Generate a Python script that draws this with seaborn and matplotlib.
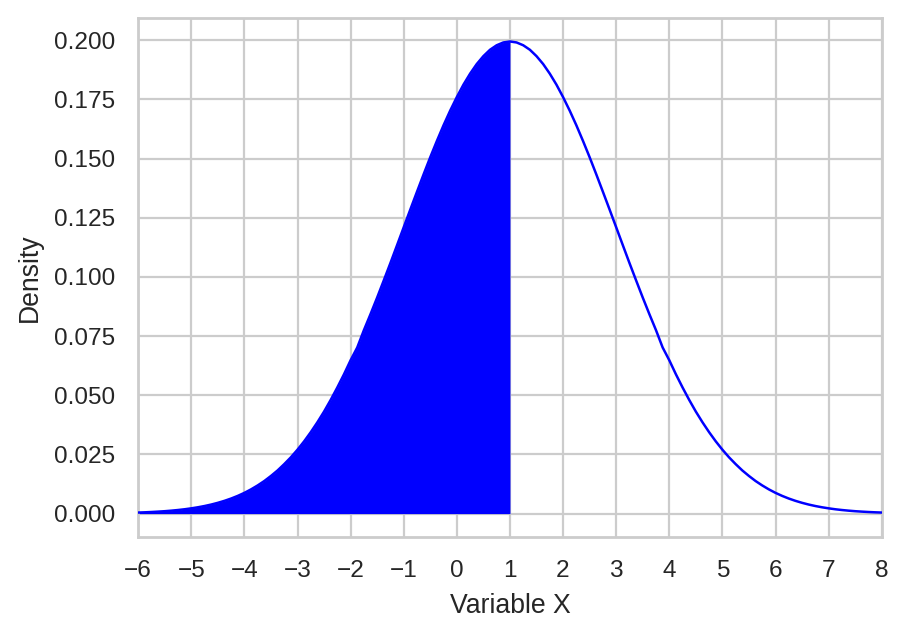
import pandas as pd
import seaborn as sns
import matplotlib
matplotlib.use("Agg")
import matplotlib.pyplot as plt
from matplotlib.ticker import FormatStrFormatter

# Density values, every 0.125 on x (peak 0.1995 at x = 1)
x_values = [
    -6.0, -5.875, -5.75, -5.625, -5.5, -5.375, -5.25, -5.125,
    -5.0, -4.875, -4.75, -4.625, -4.5, -4.375, -4.25, -4.125,
    -4.0, -3.875, -3.75, -3.625, -3.5, -3.375, -3.25, -3.125,
    -3.0, -2.875, -2.75, -2.625, -2.5, -2.375, -2.25, -2.125,
    -2.0, -1.875, -1.75, -1.625, -1.5, -1.375, -1.25, -1.125,
    -1.0, -0.875, -0.75, -0.625, -0.5, -0.375, -0.25, -0.125,
    0.0, 0.125, 0.25, 0.375, 0.5, 0.625, 0.75, 0.875,
    1.0, 1.125, 1.25, 1.375, 1.5, 1.625, 1.75, 1.875,
    2.0, 2.125, 2.25, 2.375, 2.5, 2.625, 2.75, 2.875,
    3.0, 3.125, 3.25, 3.375, 3.5, 3.625, 3.75, 3.875,
    4.0, 4.125, 4.25, 4.375, 4.5, 4.625, 4.75, 4.875,
    5.0, 5.125, 5.25, 5.375, 5.5, 5.625, 5.75, 5.875,
    6.0, 6.125, 6.25, 6.375, 6.5, 6.625, 6.75, 6.875,
    7.0, 7.125, 7.25, 7.375, 7.5, 7.625, 7.75, 7.875,
    8.0,
]
density = [
    0.00044, 0.00054, 0.00067, 0.00083, 0.00101, 0.00124, 0.00151, 0.00183,
    0.00222, 0.00267, 0.00320, 0.00382, 0.00455, 0.00539, 0.00636, 0.00748,
    0.00876, 0.01023, 0.0119, 0.01376, 0.0159, 0.01823, 0.0209, 0.02378,
    0.0270, 0.03053, 0.0344, 0.03859, 0.0431, 0.04803, 0.0533, 0.05885,
    0.0648, 0.07019, 0.0775, 0.08429, 0.0913, 0.09856, 0.1059, 0.11343,
    0.1210, 0.12854, 0.1360, 0.14339, 0.1506, 0.15749, 0.1641, 0.17028,
    0.1760, 0.18127, 0.1859, 0.18996, 0.1933, 0.19600, 0.1979, 0.19908,
    0.1995, 0.19908, 0.1979, 0.19600, 0.1933, 0.18996, 0.1859, 0.18127,
    0.1760, 0.17028, 0.1641, 0.15749, 0.1506, 0.14339, 0.1360, 0.12854,
    0.1210, 0.11343, 0.1059, 0.09856, 0.0913, 0.08429, 0.0775, 0.07019,
    0.0648, 0.05885, 0.0533, 0.04803, 0.0431, 0.03859, 0.0344, 0.03053,
    0.0270, 0.02378, 0.0209, 0.01823, 0.0159, 0.01376, 0.0119, 0.01023,
    0.00876, 0.00748, 0.00636, 0.00539, 0.00455, 0.00382, 0.00320, 0.00267,
    0.00222, 0.00183, 0.00151, 0.00124, 0.00101, 0.00083, 0.00067, 0.00054,
    0.00044,
]
shade_upto = 1.0
x_ticks = list(range(-6, 9))
y_ticks = [0, 0.025, 0.05, 0.075, 0.1, 0.125, 0.15, 0.175, 0.2]

df = pd.DataFrame({"x": x_values, "density": density})

sns.set_theme(style="whitegrid", context="paper")
plt.rcParams["font.family"] = ["Liberation Sans", "DejaVu Sans"]

fig, ax = plt.subplots(figsize=(4.545, 3.19), dpi=200)
fig.subplots_adjust(left=0.152, right=0.970, top=0.972, bottom=0.158)

# shaded area up to x = 1, drawn over the grid
shaded = df[df["x"] <= shade_upto]
ax.fill_between(shaded["x"], 0, shaded["density"], color="blue", linewidth=0, zorder=2)
sns.lineplot(data=df, x="x", y="density", color="blue", linewidth=0.9, ax=ax, zorder=3)

ax.set_xlim(-6, 8)
ax.set_xticks(x_ticks)
ax.set_yticks(y_ticks)
ax.yaxis.set_major_formatter(FormatStrFormatter("%.3f"))
ax.set_xlabel("Variable X")
ax.set_ylabel("Density")

fig.savefig("out.png", dpi=200)
